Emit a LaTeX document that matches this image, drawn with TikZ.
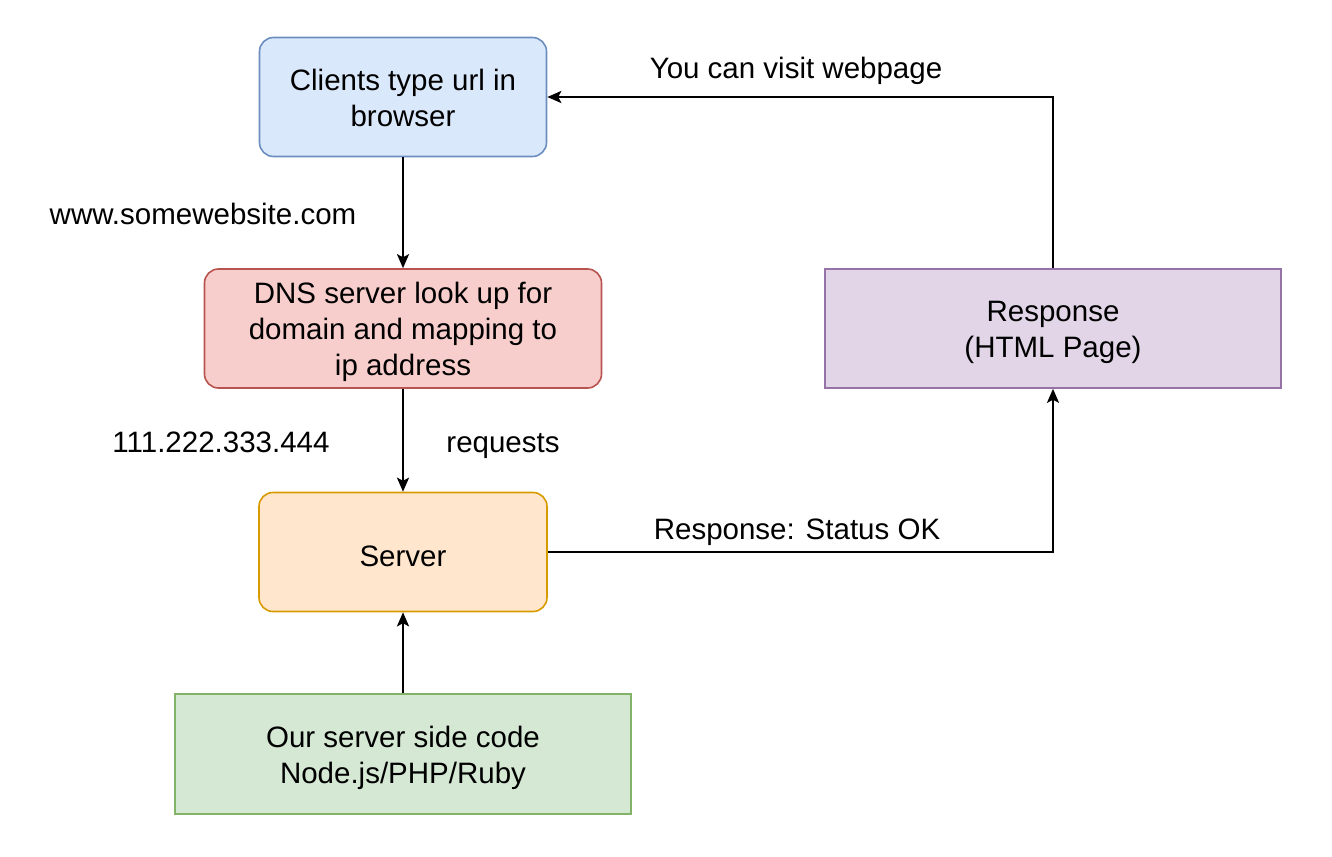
\documentclass[tikz,border=0pt]{standalone}
\usepackage{fontspec}
\setmainfont{Liberation Sans}
\usetikzlibrary{arrows.meta}
\definecolor{bluefill}{HTML}{DAE8FC}\definecolor{bluedraw}{HTML}{6C8EBF}
\definecolor{redfill}{HTML}{F8CECC}\definecolor{reddraw}{HTML}{B85450}
\definecolor{orangefill}{HTML}{FFE6CC}\definecolor{orangedraw}{HTML}{D79B00}
\definecolor{greenfill}{HTML}{D5E8D4}\definecolor{greendraw}{HTML}{82B366}
\definecolor{purplefill}{HTML}{E1D5E7}\definecolor{purpledraw}{HTML}{9673A6}
\newcommand\mystrut{\rule[-7pt]{0pt}{35pt}}
\begin{document}
\begin{tikzpicture}[x=1pt,y=-1pt,
  every node/.style={font=\fontsize{29.5}{36}\selectfont},
  txt/.style={inner sep=0pt, align=center,
    execute at begin node=\mystrut, execute at end node=\mystrut},
  box/.style={line width=1.6pt, inner sep=0pt},
  rbox/.style={box, rounded corners=14pt},
  boxtext/.style={label={[txt, yshift=-4pt]center:#1}},
  conn/.style={line width=2pt, -{Stealth[length=14pt,width=12pt,inset=3pt]}},
  lbl/.style={txt}]
\useasboundingbox[fill=white] (0,0) rectangle (1332,856);
\node[rbox, draw=bluedraw, fill=bluefill, minimum width=287pt, minimum height=119pt,
  boxtext={Clients type url in\\browser}] (clients) at (403,97) {};
\node[rbox, draw=reddraw, fill=redfill, minimum width=397pt, minimum height=119pt,
  boxtext={DNS server look up for\\domain and mapping to\\ip address}] (dns) at (403,328.5) {};
\node[rbox, draw=orangedraw, fill=orangefill, minimum width=288pt, minimum height=119pt,
  boxtext={Server}] (server) at (403,552) {};
\node[box, draw=greendraw, fill=greenfill, minimum width=456pt, minimum height=120pt,
  boxtext={Our server side code\\Node.js/PHP/Ruby}] (code) at (403,754) {};
\node[box, draw=purpledraw, fill=purplefill, minimum width=456pt, minimum height=119pt,
  boxtext={Response\\(HTML Page)}] (resp) at (1053,328.5) {};
\draw[conn] (clients.south) -- (dns.north);
\draw[conn] (dns.south) -- (server.north);
\draw[conn] (code.north) -- (server.south);
\draw[conn] (server.east) -| (resp.south);
\draw[conn] (resp.north) |- (clients.east);
\node[lbl] (l1) at (203,214) {www.somewebsite.com};
\node[lbl] (l2) at (221,442) {111.222.333.444};
\node[lbl] (l3) at (503,442) {requests};
\node[lbl] (l4) at (797,529) {Response: Status OK};
\node[lbl] (l5) at (796,68) {You can visit webpage};
\end{tikzpicture}
\end{document}
